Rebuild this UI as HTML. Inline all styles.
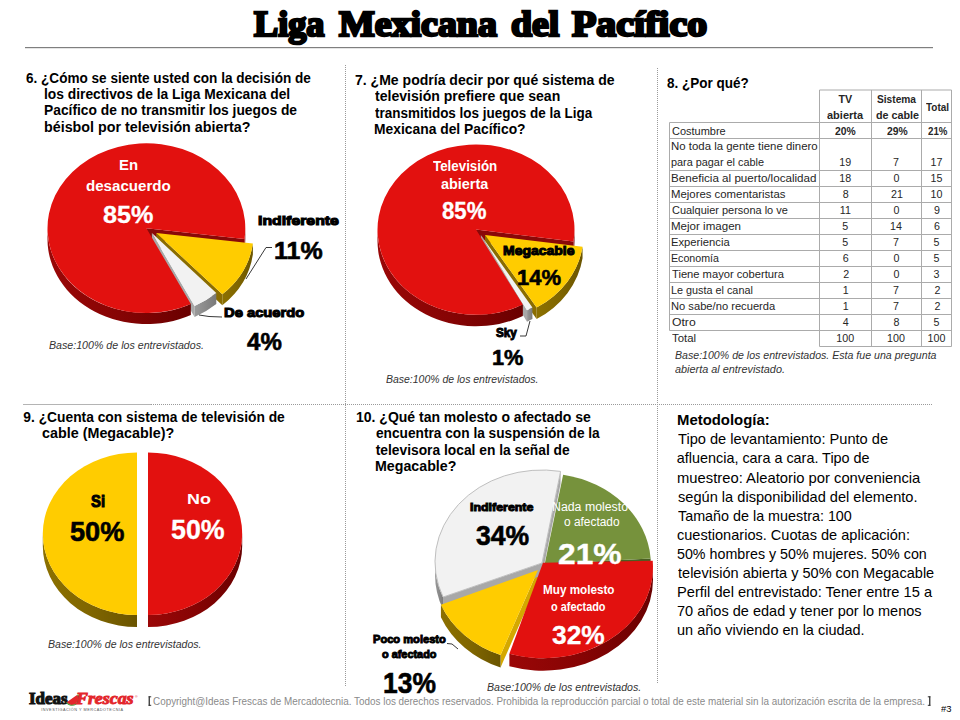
<!DOCTYPE html>
<html><head><meta charset="utf-8"><title>Liga Mexicana del Pacífico</title>
<style>
html,body{margin:0;padding:0;background:#fff;}
body{width:960px;height:720px;position:relative;overflow:hidden;}
.t{position:absolute;line-height:1;white-space:pre;transform-origin:0 0;}
</style></head><body>
<svg width="960" height="720" viewBox="0 0 960 720" style="position:absolute;left:0;top:0">
<defs>
<linearGradient id="gRed" x1="0" y1="0" x2="1" y2="0"><stop offset="0" stop-color="#9A0707"/><stop offset="0.5" stop-color="#860404"/><stop offset="1" stop-color="#6A0000"/></linearGradient>
<linearGradient id="gYel" x1="0" y1="0" x2="1" y2="0"><stop offset="0" stop-color="#8C7000"/><stop offset="0.5" stop-color="#806600"/><stop offset="1" stop-color="#6A5400"/></linearGradient>
<linearGradient id="gGray" x1="0" y1="0" x2="1" y2="0"><stop offset="0" stop-color="#9A9A9A"/><stop offset="1" stop-color="#7A7A7A"/></linearGradient>
</defs>
<rect x="25" y="47" width="908" height="1.2" fill="#7f7f7f"/><line x1="345.5" y1="65" x2="345.5" y2="687" stroke="#9a9a9a" stroke-width="1" stroke-dasharray="1 1"/><line x1="657.5" y1="68" x2="657.5" y2="684" stroke="#9a9a9a" stroke-width="1" stroke-dasharray="1 1"/><line x1="151" y1="404.5" x2="932" y2="404.5" stroke="#9a9a9a" stroke-width="1" stroke-dasharray="1 1"/><rect x="23" y="404" width="128" height="1" fill="#B4B4B4"/><g stroke="#ABABAB" stroke-width="1"><line x1="819.5" y1="90" x2="951.5" y2="90"/><line x1="819.5" y1="90" x2="819.5" y2="346.5"/><line x1="871.5" y1="90" x2="871.5" y2="346.5"/><line x1="921.5" y1="90" x2="921.5" y2="346.5"/><line x1="951.5" y1="90" x2="951.5" y2="346.5"/><line x1="669.5" y1="122.5" x2="669.5" y2="330.5"/><line x1="669.5" y1="122.5" x2="951.5" y2="122.5"/><line x1="669.5" y1="138.5" x2="951.5" y2="138.5"/><line x1="669.5" y1="170.5" x2="951.5" y2="170.5"/><line x1="669.5" y1="186.5" x2="951.5" y2="186.5"/><line x1="669.5" y1="202.5" x2="951.5" y2="202.5"/><line x1="669.5" y1="218.5" x2="951.5" y2="218.5"/><line x1="669.5" y1="234.5" x2="951.5" y2="234.5"/><line x1="669.5" y1="250.5" x2="951.5" y2="250.5"/><line x1="669.5" y1="266.5" x2="951.5" y2="266.5"/><line x1="669.5" y1="282.5" x2="951.5" y2="282.5"/><line x1="669.5" y1="298.5" x2="951.5" y2="298.5"/><line x1="669.5" y1="314.5" x2="951.5" y2="314.5"/><line x1="669.5" y1="330.5" x2="951.5" y2="330.5"/><line x1="819.5" y1="346.5" x2="951.5" y2="346.5"/></g>
<path d="M146.40,228.20 L244.50,238.99 L244.50,249.99 L146.40,239.20Z" fill="#8A0808"/>
<path d="M156.25,232.90 L222.31,294.36 L222.31,305.36 L156.25,243.90Z" fill="#8A6C00"/>
<path d="M151.90,233.10 L194.56,305.91 L194.56,316.91 L151.90,244.10Z" fill="#A8A8A8"/>
<path d="M190.84,304.05 A98.90,84.90 0 0 1 47.50,228.20 L47.50,239.20 A98.90,84.90 0 0 0 190.84,315.05 Z" fill="url(#gRed)"/>
<path d="M245.30,228.20 A98.90,84.90 0 0 1 244.50,238.99 L244.50,249.99 A98.90,84.90 0 0 0 245.30,239.20 Z" fill="url(#gRed)"/>
<path d="M252.88,243.53 A97.42,83.63 0 0 1 222.31,294.36 L222.31,305.36 A97.42,83.63 0 0 0 252.88,254.53 Z" fill="url(#gYel)"/>
<path d="M216.29,293.00 A94.94,81.50 0 0 1 194.56,305.91 L194.56,316.91 A94.94,81.50 0 0 0 216.29,304.00 Z" fill="url(#gGray)"/>
<path d="M146.40,228.20 L190.84,304.05 A98.90,84.90 0 1 1 244.50,238.99 Z" fill="#E2110F" />
<path d="M156.25,232.90 L252.88,243.53 A97.42,83.63 0 0 1 222.31,294.36 Z" fill="#FFCC00" />
<path d="M151.90,233.10 L216.29,293.00 A94.94,81.50 0 0 1 194.56,305.91 Z" fill="#F2F2F2" />
<path d="M476.00,229.60 L573.54,241.46 L573.54,252.96 L476.00,241.10Z" fill="#8A0808"/>
<path d="M485.00,235.00 L536.61,307.57 L536.61,319.07 L485.00,246.50Z" fill="#8A6C00"/>
<path d="M480.80,235.00 L527.04,310.23 L527.04,321.73 L480.80,246.50Z" fill="#A8A8A8"/>
<path d="M522.85,304.55 A98.50,85.20 0 0 1 377.50,229.60 L377.50,241.10 A98.50,85.20 0 0 0 522.85,316.05 Z" fill="url(#gRed)"/>
<path d="M574.50,229.60 A98.50,85.20 0 0 1 573.54,241.46 L573.54,252.96 A98.50,85.20 0 0 0 574.50,241.10 Z" fill="url(#gRed)"/>
<path d="M582.54,246.86 A98.50,85.20 0 0 1 536.61,307.57 L536.61,319.07 A98.50,85.20 0 0 0 582.54,258.36 Z" fill="url(#gYel)"/>
<path d="M532.41,307.57 A98.50,85.20 0 0 1 527.04,310.23 L527.04,321.73 A98.50,85.20 0 0 0 532.41,319.07 Z" fill="url(#gGray)"/>
<path d="M476.00,229.60 L522.85,304.55 A98.50,85.20 0 1 1 573.54,241.46 Z" fill="#E2110F" />
<path d="M485.00,235.00 L582.54,246.86 A98.50,85.20 0 0 1 536.61,307.57 Z" fill="#FFCC00" />
<path d="M480.80,235.00 L532.41,307.57 A98.50,85.20 0 0 1 527.04,310.23 Z" fill="#F2F2F2" />
<path d="M137.00,533.75 L137.00,614.95 L137.00,626.95 L137.00,545.75Z" fill="#8A6C00"/>
<path d="M137.00,533.75 L137.00,452.55 L137.00,464.55 L137.00,545.75Z" fill="#8A6C00"/>
<path d="M148.00,533.75 L148.00,452.55 L148.00,464.55 L148.00,545.75Z" fill="#8A0808"/>
<path d="M148.00,533.75 L148.00,614.95 L148.00,626.95 L148.00,545.75Z" fill="#8A0808"/>
<path d="M137.00,614.95 A94.20,81.20 0 0 1 42.80,533.75 L42.80,545.75 A94.20,81.20 0 0 0 137.00,626.95 Z" fill="url(#gYel)"/>
<path d="M242.20,533.75 A94.20,81.20 0 0 1 148.00,614.95 L148.00,626.95 A94.20,81.20 0 0 0 242.20,545.75 Z" fill="url(#gRed)"/>
<path d="M137.00,533.75 L137.00,614.95 A94.20,81.20 0 0 1 137.00,452.55 Z" fill="#FFCC00" />
<path d="M148.00,533.75 L148.00,452.55 A94.20,81.20 0 0 1 148.00,614.95 Z" fill="#E2110F" />
<path d="M544.70,564.00 L650.64,558.42 L650.64,570.92 L544.70,576.50Z" fill="#4A5E22"/>
<path d="M538.00,570.00 L500.54,655.01 L500.54,667.51 L538.00,582.50Z" fill="#D4A800"/>
<path d="M542.00,563.00 L443.07,597.06 L443.07,609.56 L542.00,575.50Z" fill="#A8A8A8"/>
<path d="M542.00,563.00 L560.58,471.40 L560.58,483.90 L542.00,575.50Z" fill="#A8A8A8"/>
<path d="M653.00,567.20 A110.00,91.00 0 0 1 509.37,653.84 L509.37,666.34 A110.00,91.00 0 0 0 653.00,579.70 Z" fill="url(#gRed)"/>
<path d="M500.54,655.01 A105.00,91.00 0 0 1 440.92,604.68 L440.92,617.18 A105.00,91.00 0 0 0 500.54,667.51 Z" fill="url(#gYel)"/>
<path d="M443.07,597.06 A107.00,92.00 0 0 1 435.00,562.00 L435.00,574.50 A107.00,92.00 0 0 0 443.07,609.56 Z" fill="url(#gGray)"/>
<path d="M544.70,564.00 L563.14,474.69 A106.20,91.50 0 0 1 650.64,558.42 Z" fill="#76923C" />
<path d="M543.00,562.80 L652.73,560.85 A110.00,91.00 0 0 1 509.37,653.84 Z" fill="#E2110F" />
<path d="M538.00,570.00 L500.54,655.01 A105.00,91.00 0 0 1 440.92,604.68 Z" fill="#FFCC00" />
<path d="M542.00,563.00 L443.07,597.06 A107.00,92.00 0 0 1 560.58,471.40 Z" fill="#F2F2F2" stroke="#BFBFBF" stroke-width="1"/>
<path d="M246,279 L266,247.5 L272,247.5" fill="none" stroke="#222" stroke-width="0.9"/><path d="M199,315 L209,316.5 L222,317" fill="none" stroke="#222" stroke-width="0.9"/><path d="M530,321 L526,336 L520,336" fill="none" stroke="#222" stroke-width="0.9"/><path d="M447,643.5 L452,644 L458,649" fill="none" stroke="#222" stroke-width="0.9"/>
<g>
<text x="29" y="704.4" font-family="Liberation Serif" font-weight="bold" font-size="16" fill="#111" stroke="#111" stroke-width="1.1" textLength="38.5" lengthAdjust="spacingAndGlyphs">Ideas</text>
<g transform="translate(72,698.5) rotate(-35)"><path d="M-6.5,0 A6.5,6.5 0 0 0 6.5,0 Z" fill="#E3262B"/><path d="M-6.8,0 A6.8,6.8 0 0 0 6.8,0" fill="none" stroke="#4C9A3C" stroke-width="1"/></g>
<text x="76" y="704.4" font-family="Liberation Serif" font-weight="bold" font-style="italic" font-size="16" fill="#E3262B" stroke="#E3262B" stroke-width="0.9" textLength="57.5" lengthAdjust="spacingAndGlyphs">Frescas</text>
<text x="135" y="697.5" font-family="Liberation Sans" font-size="3.5" fill="#E3262B">®</text>
<text x="41.25" y="711" font-family="Liberation Sans" font-size="3.8" fill="#555" textLength="81.75" lengthAdjust="spacing">INVESTIGACIÓN Y MERCADOTECNIA</text>
<rect x="148.6" y="696.3" width="1.3" height="9.5" fill="#333"/><rect x="148.6" y="696.3" width="2.6" height="1" fill="#333"/><rect x="148.6" y="704.8" width="2.6" height="1" fill="#333"/>
<rect x="929.1" y="696.3" width="1.3" height="9.5" fill="#333"/><rect x="927.8" y="696.3" width="2.6" height="1" fill="#333"/><rect x="927.8" y="704.8" width="2.6" height="1" fill="#333"/>
</g>
</svg>
<div class="t" style="left:254.03px;top:7.20px;transform:scaleX(1.0254);font-family:'Liberation Serif', serif;font-size:35.3px;font-weight:bold;font-style:normal;color:#000;-webkit-text-stroke:2.5px #000;">Liga</div>
<div class="t" style="left:338.57px;top:7.20px;transform:scaleX(1.0738);font-family:'Liberation Serif', serif;font-size:35.3px;font-weight:bold;font-style:normal;color:#000;-webkit-text-stroke:2.5px #000;">Mexicana</div>
<div class="t" style="left:510.80px;top:7.20px;transform:scaleX(1.0696);font-family:'Liberation Serif', serif;font-size:35.3px;font-weight:bold;font-style:normal;color:#000;-webkit-text-stroke:2.5px #000;">del</div>
<div class="t" style="left:571.93px;top:7.20px;transform:scaleX(1.1298);font-family:'Liberation Serif', serif;font-size:35.3px;font-weight:bold;font-style:normal;color:#000;-webkit-text-stroke:2.5px #000;">Pacífico</div>
<div class="t" style="left:26.00px;top:71.70px;transform:scaleX(0.9828);font-family:'Liberation Sans', sans-serif;font-size:13.8px;font-weight:bold;font-style:normal;color:#000;">6. ¿Cómo se siente usted con la decisión de</div>
<div class="t" style="left:44.00px;top:88.00px;font-family:'Liberation Sans', sans-serif;font-size:13.8px;font-weight:bold;font-style:normal;color:#000;">los directivos de la Liga Mexicana del</div>
<div class="t" style="left:44.00px;top:104.30px;font-family:'Liberation Sans', sans-serif;font-size:13.8px;font-weight:bold;font-style:normal;color:#000;">Pacífico de no transmitir los juegos de</div>
<div class="t" style="left:43.96px;top:120.70px;transform:scaleX(1.0354);font-family:'Liberation Sans', sans-serif;font-size:13.8px;font-weight:bold;font-style:normal;color:#000;">béisbol por televisión abierta?</div>
<div class="t" style="left:354.98px;top:74.00px;transform:scaleX(1.0169);font-family:'Liberation Sans', sans-serif;font-size:13.8px;font-weight:bold;font-style:normal;color:#000;">7. ¿Me podría decir por qué sistema de</div>
<div class="t" style="left:374.50px;top:90.30px;transform:scaleX(1.0193);font-family:'Liberation Sans', sans-serif;font-size:13.8px;font-weight:bold;font-style:normal;color:#000;">televisión prefiere que sean</div>
<div class="t" style="left:374.50px;top:106.50px;transform:scaleX(0.9767);font-family:'Liberation Sans', sans-serif;font-size:13.8px;font-weight:bold;font-style:normal;color:#000;">transmitidos los juegos de la Liga</div>
<div class="t" style="left:373.50px;top:122.80px;transform:scaleX(1.0033);font-family:'Liberation Sans', sans-serif;font-size:13.8px;font-weight:bold;font-style:normal;color:#000;">Mexicana del Pacífico?</div>
<div class="t" style="left:666.80px;top:76.50px;transform:scaleX(0.9783);font-family:'Liberation Sans', sans-serif;font-size:13.8px;font-weight:bold;font-style:normal;color:#000;">8. ¿Por qué?</div>
<div class="t" style="left:23.30px;top:410.70px;font-family:'Liberation Sans', sans-serif;font-size:13.8px;font-weight:bold;font-style:normal;color:#000;">9. ¿Cuenta con sistema de televisión de</div>
<div class="t" style="left:42.30px;top:427.30px;transform:scaleX(1.0394);font-family:'Liberation Sans', sans-serif;font-size:13.8px;font-weight:bold;font-style:normal;color:#000;">cable (Megacable)?</div>
<div class="t" style="left:355.69px;top:410.70px;transform:scaleX(1.0143);font-family:'Liberation Sans', sans-serif;font-size:13.8px;font-weight:bold;font-style:normal;color:#000;">10. ¿Qué tan molesto o afectado se</div>
<div class="t" style="left:375.70px;top:427.20px;transform:scaleX(0.9925);font-family:'Liberation Sans', sans-serif;font-size:13.8px;font-weight:bold;font-style:normal;color:#000;">encuentra con la suspensión de la</div>
<div class="t" style="left:375.70px;top:443.60px;font-family:'Liberation Sans', sans-serif;font-size:13.8px;font-weight:bold;font-style:normal;color:#000;">televisora local en la señal de</div>
<div class="t" style="left:374.67px;top:460.00px;transform:scaleX(1.0299);font-family:'Liberation Sans', sans-serif;font-size:13.8px;font-weight:bold;font-style:normal;color:#000;">Megacable?</div>
<div class="t" style="left:676.77px;top:412.70px;transform:scaleX(1.0345);font-family:'Liberation Sans', sans-serif;font-size:14.4px;font-weight:bold;font-style:normal;color:#000;">Metodología:</div>
<div class="t" style="left:677.80px;top:432.40px;transform:scaleX(1.0165);font-family:'Liberation Sans', sans-serif;font-size:14.4px;font-weight:normal;font-style:normal;color:#000;">Tipo de levantamiento: Punto de</div>
<div class="t" style="left:676.80px;top:451.46px;font-family:'Liberation Sans', sans-serif;font-size:14.4px;font-weight:normal;font-style:normal;color:#000;">afluencia, cara a cara. Tipo de</div>
<div class="t" style="left:676.77px;top:470.52px;transform:scaleX(1.0275);font-family:'Liberation Sans', sans-serif;font-size:14.4px;font-weight:normal;font-style:normal;color:#000;">muestreo: Aleatorio por conveniencia</div>
<div class="t" style="left:677.80px;top:489.58px;transform:scaleX(1.0147);font-family:'Liberation Sans', sans-serif;font-size:14.4px;font-weight:normal;font-style:normal;color:#000;">según la disponibilidad del elemento.</div>
<div class="t" style="left:677.80px;top:508.64px;transform:scaleX(0.9968);font-family:'Liberation Sans', sans-serif;font-size:14.4px;font-weight:normal;font-style:normal;color:#000;">Tamaño de la muestra: 100</div>
<div class="t" style="left:676.79px;top:527.70px;transform:scaleX(1.0114);font-family:'Liberation Sans', sans-serif;font-size:14.4px;font-weight:normal;font-style:normal;color:#000;">cuestionarios. Cuotas de aplicación:</div>
<div class="t" style="left:676.81px;top:546.76px;transform:scaleX(0.9912);font-family:'Liberation Sans', sans-serif;font-size:14.4px;font-weight:normal;font-style:normal;color:#000;">50% hombres y 50% mujeres. 50% con</div>
<div class="t" style="left:677.80px;top:565.82px;transform:scaleX(1.0103);font-family:'Liberation Sans', sans-serif;font-size:14.4px;font-weight:normal;font-style:normal;color:#000;">televisión abierta y 50% con Megacable</div>
<div class="t" style="left:676.78px;top:584.88px;transform:scaleX(1.0164);font-family:'Liberation Sans', sans-serif;font-size:14.4px;font-weight:normal;font-style:normal;color:#000;">Perfil del entrevistado: Tener entre 15 a</div>
<div class="t" style="left:676.79px;top:603.94px;transform:scaleX(1.0091);font-family:'Liberation Sans', sans-serif;font-size:14.4px;font-weight:normal;font-style:normal;color:#000;">70 años de edad y tener por lo menos</div>
<div class="t" style="left:676.79px;top:623.00px;transform:scaleX(1.0065);font-family:'Liberation Sans', sans-serif;font-size:14.4px;font-weight:normal;font-style:normal;color:#000;">un año viviendo en la ciudad.</div>
<div class="t" style="left:49.30px;top:340.30px;transform:scaleX(1.0132);font-family:'Liberation Sans', sans-serif;font-size:10.5px;font-weight:normal;font-style:italic;color:#333;">Base:100% de los entrevistados.</div>
<div class="t" style="left:385.50px;top:373.50px;transform:scaleX(0.9967);font-family:'Liberation Sans', sans-serif;font-size:10.5px;font-weight:normal;font-style:italic;color:#333;">Base:100% de los entrevistados.</div>
<div class="t" style="left:674.70px;top:349.75px;transform:scaleX(1.0089);font-family:'Liberation Sans', sans-serif;font-size:10.5px;font-weight:normal;font-style:italic;color:#333;">Base:100% de los entrevistados. Esta fue una pregunta</div>
<div class="t" style="left:674.70px;top:363.80px;transform:scaleX(1.0352);font-family:'Liberation Sans', sans-serif;font-size:10.5px;font-weight:normal;font-style:italic;color:#333;">abierta al entrevistado.</div>
<div class="t" style="left:47.50px;top:638.50px;transform:scaleX(1.0033);font-family:'Liberation Sans', sans-serif;font-size:10.5px;font-weight:normal;font-style:italic;color:#333;">Base:100% de los entrevistados.</div>
<div class="t" style="left:486.70px;top:682.00px;transform:scaleX(1.0086);font-family:'Liberation Sans', sans-serif;font-size:10.5px;font-weight:normal;font-style:italic;color:#333;">Base:100% de los entrevistados.</div>
<div class="t" style="left:118.97px;top:157.70px;transform:scaleX(1.0294);font-family:'Liberation Sans', sans-serif;font-size:14.5px;font-weight:bold;font-style:normal;color:#fff;">En</div>
<div class="t" style="left:86.46px;top:178.80px;transform:scaleX(1.0413);font-family:'Liberation Sans', sans-serif;font-size:14.5px;font-weight:bold;font-style:normal;color:#fff;">desacuerdo</div>
<div class="t" style="left:102.97px;top:202.80px;transform:scaleX(1.0271);font-family:'Liberation Sans', sans-serif;font-size:24.5px;font-weight:bold;font-style:normal;color:#fff;-webkit-text-stroke:0.3px #fff;">85%</div>
<div class="t" style="left:258.30px;top:215.00px;transform:scaleX(1.2656);font-family:'Liberation Sans', sans-serif;font-size:12.5px;font-weight:bold;font-style:normal;color:#000;-webkit-text-stroke:1.0px #000;">Indiferente</div>
<div class="t" style="left:274.38px;top:238.50px;transform:scaleX(1.0191);font-family:'Liberation Sans', sans-serif;font-size:24.5px;font-weight:bold;font-style:normal;color:#000;-webkit-text-stroke:0.6px #000;">11%</div>
<div class="t" style="left:224.40px;top:307.00px;transform:scaleX(1.1794);font-family:'Liberation Sans', sans-serif;font-size:12.5px;font-weight:bold;font-style:normal;color:#000;-webkit-text-stroke:1.0px #000;">De acuerdo</div>
<div class="t" style="left:247.30px;top:330.00px;transform:scaleX(0.9829);font-family:'Liberation Sans', sans-serif;font-size:24.5px;font-weight:bold;font-style:normal;color:#000;-webkit-text-stroke:0.6px #000;">4%</div>
<div class="t" style="left:432.50px;top:158.50px;transform:scaleX(0.9203);font-family:'Liberation Sans', sans-serif;font-size:14.5px;font-weight:bold;font-style:normal;color:#fff;">Televisión</div>
<div class="t" style="left:441.00px;top:177.00px;transform:scaleX(0.9948);font-family:'Liberation Sans', sans-serif;font-size:14.5px;font-weight:bold;font-style:normal;color:#fff;">abierta</div>
<div class="t" style="left:441.55px;top:199.60px;transform:scaleX(0.9457);font-family:'Liberation Sans', sans-serif;font-size:23.5px;font-weight:bold;font-style:normal;color:#fff;-webkit-text-stroke:0.3px #fff;">85%</div>
<div class="t" style="left:503.00px;top:244.50px;transform:scaleX(1.1172);font-family:'Liberation Sans', sans-serif;font-size:12.5px;font-weight:bold;font-style:normal;color:#000;-webkit-text-stroke:1.0px #000;">Megacable</div>
<div class="t" style="left:516.52px;top:267.00px;transform:scaleX(0.9773);font-family:'Liberation Sans', sans-serif;font-size:22.5px;font-weight:bold;font-style:normal;color:#000;-webkit-text-stroke:0.6px #000;">14%</div>
<div class="t" style="left:496.00px;top:326.50px;transform:scaleX(0.9348);font-family:'Liberation Sans', sans-serif;font-size:12.5px;font-weight:bold;font-style:normal;color:#000;-webkit-text-stroke:1.0px #000;">Sky</div>
<div class="t" style="left:491.53px;top:347.00px;transform:scaleX(0.9677);font-family:'Liberation Sans', sans-serif;font-size:22.5px;font-weight:bold;font-style:normal;color:#000;-webkit-text-stroke:0.6px #000;">1%</div>
<div class="t" style="left:90.50px;top:493.50px;transform:scaleX(0.9267);font-family:'Liberation Sans', sans-serif;font-size:16px;font-weight:bold;font-style:normal;color:#000;-webkit-text-stroke:1.0px #000;">Si</div>
<div class="t" style="left:70.03px;top:518.40px;transform:scaleX(0.9709);font-family:'Liberation Sans', sans-serif;font-size:28px;font-weight:bold;font-style:normal;color:#000;-webkit-text-stroke:0.6px #000;">50%</div>
<div class="t" style="left:186.57px;top:492.00px;transform:scaleX(1.2333);font-family:'Liberation Sans', sans-serif;font-size:14.5px;font-weight:bold;font-style:normal;color:#fff;">No</div>
<div class="t" style="left:170.74px;top:515.60px;transform:scaleX(0.9582);font-family:'Liberation Sans', sans-serif;font-size:28px;font-weight:bold;font-style:normal;color:#fff;-webkit-text-stroke:0.3px #fff;">50%</div>
<div class="t" style="left:470.40px;top:501.70px;transform:scaleX(1.0780);font-family:'Liberation Sans', sans-serif;font-size:11.5px;font-weight:bold;font-style:normal;color:#000;-webkit-text-stroke:1.0px #000;">Indiferente</div>
<div class="t" style="left:475.60px;top:522.00px;transform:scaleX(0.9491);font-family:'Liberation Sans', sans-serif;font-size:28px;font-weight:bold;font-style:normal;color:#000;-webkit-text-stroke:0.6px #000;">34%</div>
<div class="t" style="left:551.77px;top:501.00px;transform:scaleX(1.0274);font-family:'Liberation Sans', sans-serif;font-size:12px;font-weight:normal;font-style:normal;color:#fff;">Nada molesto</div>
<div class="t" style="left:563.90px;top:515.80px;transform:scaleX(0.9911);font-family:'Liberation Sans', sans-serif;font-size:12px;font-weight:normal;font-style:normal;color:#fff;">o afectado</div>
<div class="t" style="left:557.80px;top:540.20px;transform:scaleX(1.0965);font-family:'Liberation Sans', sans-serif;font-size:29px;font-weight:bold;font-style:normal;color:#fff;-webkit-text-stroke:0.3px #fff;">21%</div>
<div class="t" style="left:543.23px;top:584.40px;transform:scaleX(0.9750);font-family:'Liberation Sans', sans-serif;font-size:12px;font-weight:bold;font-style:normal;color:#fff;">Muy molesto</div>
<div class="t" style="left:551.00px;top:600.50px;transform:scaleX(0.9083);font-family:'Liberation Sans', sans-serif;font-size:12px;font-weight:bold;font-style:normal;color:#fff;">o afectado</div>
<div class="t" style="left:552.00px;top:622.40px;transform:scaleX(1.0135);font-family:'Liberation Sans', sans-serif;font-size:26px;font-weight:bold;font-style:normal;color:#fff;-webkit-text-stroke:0.3px #fff;">32%</div>
<div class="t" style="left:373.30px;top:633.60px;transform:scaleX(0.9658);font-family:'Liberation Sans', sans-serif;font-size:11.5px;font-weight:bold;font-style:normal;color:#000;-webkit-text-stroke:1.0px #000;">Poco molesto</div>
<div class="t" style="left:382.00px;top:649.00px;transform:scaleX(0.9466);font-family:'Liberation Sans', sans-serif;font-size:11.5px;font-weight:bold;font-style:normal;color:#000;-webkit-text-stroke:1.0px #000;">o afectado</div>
<div class="t" style="left:382.59px;top:669.30px;transform:scaleX(0.9123);font-family:'Liberation Sans', sans-serif;font-size:29px;font-weight:bold;font-style:normal;color:#000;-webkit-text-stroke:0.6px #000;">13%</div>
<div class="t" style="left:153.12px;top:695.80px;transform:scaleX(0.8836);font-family:'Liberation Sans', sans-serif;font-size:11.2px;font-weight:normal;font-style:normal;color:#8a8a8a;">Copyright@Ideas Frescas de Mercadotecnia. Todos los derechos reservados. Prohibida la reproducción parcial o total de este material sin la autorización escrita de la empresa.</div>
<div class="t" style="left:941.25px;top:704.70px;transform:scaleX(1.1111);font-family:'Liberation Sans', sans-serif;font-size:8.5px;font-weight:normal;font-style:normal;color:#000;">#3</div>
<div class="t" style="left:671.60px;top:125.60px;transform:scaleX(1.0269);font-family:'Liberation Sans', sans-serif;font-size:10.7px;font-weight:normal;font-style:normal;color:#262626;">Costumbre</div>
<div class="t" style="left:670.53px;top:141.30px;transform:scaleX(1.0684);font-family:'Liberation Sans', sans-serif;font-size:10.7px;font-weight:normal;font-style:normal;color:#262626;">No toda la gente tiene dinero</div>
<div class="t" style="left:670.58px;top:157.20px;transform:scaleX(1.0156);font-family:'Liberation Sans', sans-serif;font-size:10.7px;font-weight:normal;font-style:normal;color:#262626;">para pagar el cable</div>
<div class="t" style="left:670.51px;top:173.40px;transform:scaleX(1.0886);font-family:'Liberation Sans', sans-serif;font-size:10.7px;font-weight:normal;font-style:normal;color:#262626;">Beneficia al puerto/localidad</div>
<div class="t" style="left:670.54px;top:189.40px;transform:scaleX(1.0642);font-family:'Liberation Sans', sans-serif;font-size:10.7px;font-weight:normal;font-style:normal;color:#262626;">Mejores comentaristas</div>
<div class="t" style="left:671.60px;top:205.40px;transform:scaleX(1.0257);font-family:'Liberation Sans', sans-serif;font-size:10.7px;font-weight:normal;font-style:normal;color:#262626;">Cualquier persona lo ve</div>
<div class="t" style="left:670.52px;top:221.40px;transform:scaleX(1.0810);font-family:'Liberation Sans', sans-serif;font-size:10.7px;font-weight:normal;font-style:normal;color:#262626;">Mejor imagen</div>
<div class="t" style="left:670.55px;top:237.40px;transform:scaleX(1.0509);font-family:'Liberation Sans', sans-serif;font-size:10.7px;font-weight:normal;font-style:normal;color:#262626;">Experiencia</div>
<div class="t" style="left:670.60px;top:253.40px;transform:scaleX(0.9957);font-family:'Liberation Sans', sans-serif;font-size:10.7px;font-weight:normal;font-style:normal;color:#262626;">Economía</div>
<div class="t" style="left:671.60px;top:269.40px;transform:scaleX(1.0449);font-family:'Liberation Sans', sans-serif;font-size:10.7px;font-weight:normal;font-style:normal;color:#262626;">Tiene mayor cobertura</div>
<div class="t" style="left:670.59px;top:285.40px;transform:scaleX(1.0127);font-family:'Liberation Sans', sans-serif;font-size:10.7px;font-weight:normal;font-style:normal;color:#262626;">Le gusta el canal</div>
<div class="t" style="left:670.56px;top:301.40px;transform:scaleX(1.0444);font-family:'Liberation Sans', sans-serif;font-size:10.7px;font-weight:normal;font-style:normal;color:#262626;">No sabe/no recuerda</div>
<div class="t" style="left:671.60px;top:317.40px;transform:scaleX(1.1400);font-family:'Liberation Sans', sans-serif;font-size:10.7px;font-weight:normal;font-style:normal;color:#262626;">Otro</div>
<div class="t" style="left:671.60px;top:333.40px;transform:scaleX(1.0636);font-family:'Liberation Sans', sans-serif;font-size:10.7px;font-weight:normal;font-style:normal;color:#262626;">Total</div>
<div class="t" style="left:839.30px;top:157.20px;font-family:'Liberation Sans', sans-serif;font-size:10.7px;font-weight:normal;font-style:normal;color:#262626;">19</div>
<div class="t" style="left:893.10px;top:157.20px;font-family:'Liberation Sans', sans-serif;font-size:10.7px;font-weight:normal;font-style:normal;color:#262626;">7</div>
<div class="t" style="left:930.50px;top:157.20px;font-family:'Liberation Sans', sans-serif;font-size:10.7px;font-weight:normal;font-style:normal;color:#262626;">17</div>
<div class="t" style="left:839.30px;top:173.40px;font-family:'Liberation Sans', sans-serif;font-size:10.7px;font-weight:normal;font-style:normal;color:#262626;">18</div>
<div class="t" style="left:893.60px;top:173.40px;font-family:'Liberation Sans', sans-serif;font-size:10.7px;font-weight:normal;font-style:normal;color:#262626;">0</div>
<div class="t" style="left:930.50px;top:173.40px;font-family:'Liberation Sans', sans-serif;font-size:10.7px;font-weight:normal;font-style:normal;color:#262626;">15</div>
<div class="t" style="left:842.80px;top:189.40px;font-family:'Liberation Sans', sans-serif;font-size:10.7px;font-weight:normal;font-style:normal;color:#262626;">8</div>
<div class="t" style="left:891.10px;top:189.40px;font-family:'Liberation Sans', sans-serif;font-size:10.7px;font-weight:normal;font-style:normal;color:#262626;">21</div>
<div class="t" style="left:930.50px;top:189.40px;font-family:'Liberation Sans', sans-serif;font-size:10.7px;font-weight:normal;font-style:normal;color:#262626;">10</div>
<div class="t" style="left:839.80px;top:205.40px;font-family:'Liberation Sans', sans-serif;font-size:10.7px;font-weight:normal;font-style:normal;color:#262626;">11</div>
<div class="t" style="left:893.60px;top:205.40px;font-family:'Liberation Sans', sans-serif;font-size:10.7px;font-weight:normal;font-style:normal;color:#262626;">0</div>
<div class="t" style="left:934.00px;top:205.40px;font-family:'Liberation Sans', sans-serif;font-size:10.7px;font-weight:normal;font-style:normal;color:#262626;">9</div>
<div class="t" style="left:842.30px;top:221.40px;font-family:'Liberation Sans', sans-serif;font-size:10.7px;font-weight:normal;font-style:normal;color:#262626;">5</div>
<div class="t" style="left:890.10px;top:221.40px;font-family:'Liberation Sans', sans-serif;font-size:10.7px;font-weight:normal;font-style:normal;color:#262626;">14</div>
<div class="t" style="left:934.00px;top:221.40px;font-family:'Liberation Sans', sans-serif;font-size:10.7px;font-weight:normal;font-style:normal;color:#262626;">6</div>
<div class="t" style="left:842.30px;top:237.40px;font-family:'Liberation Sans', sans-serif;font-size:10.7px;font-weight:normal;font-style:normal;color:#262626;">5</div>
<div class="t" style="left:893.10px;top:237.40px;font-family:'Liberation Sans', sans-serif;font-size:10.7px;font-weight:normal;font-style:normal;color:#262626;">7</div>
<div class="t" style="left:933.50px;top:237.40px;font-family:'Liberation Sans', sans-serif;font-size:10.7px;font-weight:normal;font-style:normal;color:#262626;">5</div>
<div class="t" style="left:842.80px;top:253.40px;font-family:'Liberation Sans', sans-serif;font-size:10.7px;font-weight:normal;font-style:normal;color:#262626;">6</div>
<div class="t" style="left:893.60px;top:253.40px;font-family:'Liberation Sans', sans-serif;font-size:10.7px;font-weight:normal;font-style:normal;color:#262626;">0</div>
<div class="t" style="left:933.50px;top:253.40px;font-family:'Liberation Sans', sans-serif;font-size:10.7px;font-weight:normal;font-style:normal;color:#262626;">5</div>
<div class="t" style="left:843.30px;top:269.40px;font-family:'Liberation Sans', sans-serif;font-size:10.7px;font-weight:normal;font-style:normal;color:#262626;">2</div>
<div class="t" style="left:893.60px;top:269.40px;font-family:'Liberation Sans', sans-serif;font-size:10.7px;font-weight:normal;font-style:normal;color:#262626;">0</div>
<div class="t" style="left:933.50px;top:269.40px;font-family:'Liberation Sans', sans-serif;font-size:10.7px;font-weight:normal;font-style:normal;color:#262626;">3</div>
<div class="t" style="left:842.80px;top:285.40px;font-family:'Liberation Sans', sans-serif;font-size:10.7px;font-weight:normal;font-style:normal;color:#262626;">1</div>
<div class="t" style="left:893.10px;top:285.40px;font-family:'Liberation Sans', sans-serif;font-size:10.7px;font-weight:normal;font-style:normal;color:#262626;">7</div>
<div class="t" style="left:934.50px;top:285.40px;font-family:'Liberation Sans', sans-serif;font-size:10.7px;font-weight:normal;font-style:normal;color:#262626;">2</div>
<div class="t" style="left:842.80px;top:301.40px;font-family:'Liberation Sans', sans-serif;font-size:10.7px;font-weight:normal;font-style:normal;color:#262626;">1</div>
<div class="t" style="left:893.10px;top:301.40px;font-family:'Liberation Sans', sans-serif;font-size:10.7px;font-weight:normal;font-style:normal;color:#262626;">7</div>
<div class="t" style="left:934.50px;top:301.40px;font-family:'Liberation Sans', sans-serif;font-size:10.7px;font-weight:normal;font-style:normal;color:#262626;">2</div>
<div class="t" style="left:842.80px;top:317.40px;font-family:'Liberation Sans', sans-serif;font-size:10.7px;font-weight:normal;font-style:normal;color:#262626;">4</div>
<div class="t" style="left:893.60px;top:317.40px;font-family:'Liberation Sans', sans-serif;font-size:10.7px;font-weight:normal;font-style:normal;color:#262626;">8</div>
<div class="t" style="left:933.50px;top:317.40px;font-family:'Liberation Sans', sans-serif;font-size:10.7px;font-weight:normal;font-style:normal;color:#262626;">5</div>
<div class="t" style="left:836.30px;top:333.40px;font-family:'Liberation Sans', sans-serif;font-size:10.7px;font-weight:normal;font-style:normal;color:#262626;">100</div>
<div class="t" style="left:887.10px;top:333.40px;font-family:'Liberation Sans', sans-serif;font-size:10.7px;font-weight:normal;font-style:normal;color:#262626;">100</div>
<div class="t" style="left:927.50px;top:333.40px;font-family:'Liberation Sans', sans-serif;font-size:10.7px;font-weight:normal;font-style:normal;color:#262626;">100</div>
<div class="t" style="left:835.00px;top:125.60px;transform:scaleX(0.9667);font-family:'Liberation Sans', sans-serif;font-size:10.7px;font-weight:bold;font-style:normal;color:#262626;">20%</div>
<div class="t" style="left:886.60px;top:125.60px;transform:scaleX(0.9667);font-family:'Liberation Sans', sans-serif;font-size:10.7px;font-weight:bold;font-style:normal;color:#262626;">29%</div>
<div class="t" style="left:927.80px;top:125.60px;transform:scaleX(0.9095);font-family:'Liberation Sans', sans-serif;font-size:10.7px;font-weight:bold;font-style:normal;color:#262626;">21%</div>
<div class="t" style="left:838.50px;top:94.00px;font-family:'Liberation Sans', sans-serif;font-size:10.7px;font-weight:bold;font-style:normal;color:#262626;">TV</div>
<div class="t" style="left:827.00px;top:110.00px;transform:scaleX(1.0286);font-family:'Liberation Sans', sans-serif;font-size:10.7px;font-weight:bold;font-style:normal;color:#262626;">abierta</div>
<div class="t" style="left:877.00px;top:94.00px;transform:scaleX(0.9512);font-family:'Liberation Sans', sans-serif;font-size:10.7px;font-weight:bold;font-style:normal;color:#262626;">Sistema</div>
<div class="t" style="left:875.60px;top:110.00px;transform:scaleX(1.0048);font-family:'Liberation Sans', sans-serif;font-size:10.7px;font-weight:bold;font-style:normal;color:#262626;">de cable</div>
<div class="t" style="left:925.60px;top:102.00px;transform:scaleX(0.9333);font-family:'Liberation Sans', sans-serif;font-size:10.7px;font-weight:bold;font-style:normal;color:#262626;">Total</div>
</body></html>
